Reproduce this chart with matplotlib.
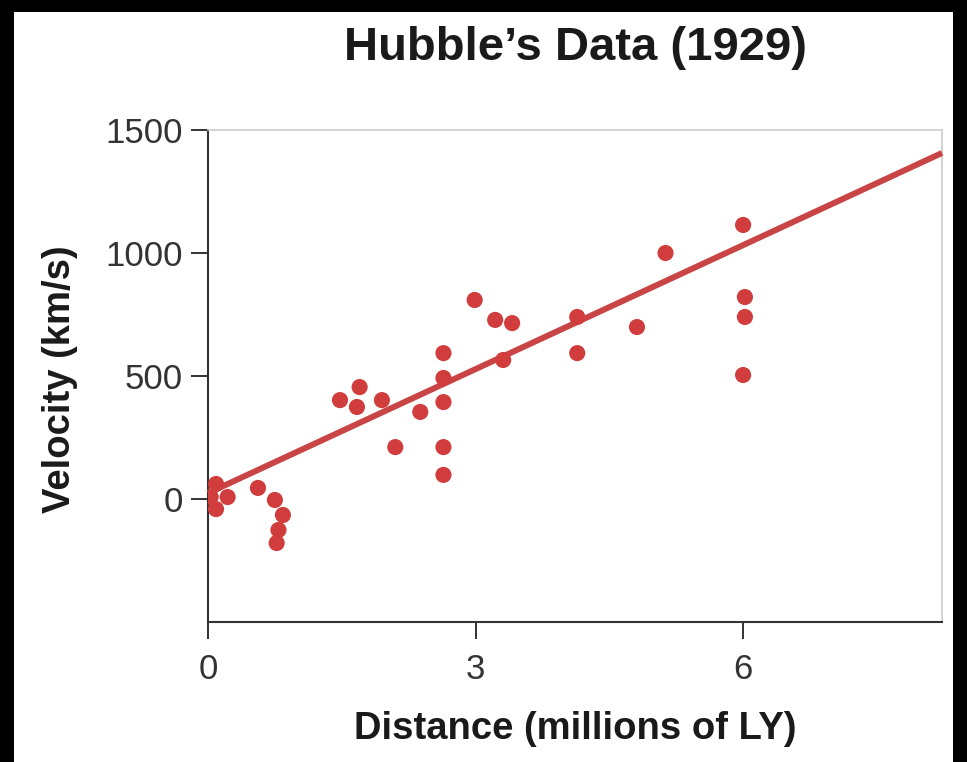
import matplotlib
matplotlib.use("Agg")
import matplotlib.pyplot as plt
from matplotlib.patches import Rectangle

plt.rcParams['font.family'] = ['Liberation Sans', 'DejaVu Sans']

# Galaxy distances (millions of light years) and recession velocities (km/s)
distance = [0.09, 0.03, 0.22, 0.09, 0.56, 0.75, 0.84, 0.79, 0.77,
            1.48, 1.70, 1.67, 1.95, 2.38, 2.10, 2.64, 2.64, 2.64, 2.64, 2.64,
            2.99, 3.22, 3.41, 3.31, 4.14, 4.14,
            4.81, 5.13, 6.00, 6.02, 6.02, 6.00]
velocity = [61, 8, 8, -41, 45, -4, -65, -126, -179,
            402, 455, 374, 402, 354, 211, 593, 492, 394, 211, 98,
            809, 728, 715, 565, 740, 593,
            699, 1000, 1114, 821, 740, 504]

# Best-fit line: intercept and slope
fit_intercept = 24
fit_slope = 168

x_ticks = [0, 3, 6]
y_ticks = [0, 500, 1000, 1500]
x_range = [0, 8.23]
y_range = [-500, 1500]

W, H = 967, 762
fig = plt.figure(figsize=(W / 100, H / 100), dpi=100, facecolor='black')

# white page inside the dark frame
page = Rectangle((14 / W, 0), (953 - 14) / W, 1 - 12 / H,
                 transform=fig.transFigure, facecolor='white',
                 edgecolor='none', zorder=-10)
fig.patches.append(page)

ax = fig.add_axes([208 / W, 1 - 622 / H, (942 - 208) / W, (622 - 130) / H])
ax.set_facecolor('white')

red = '#d13c3c'
line_red = '#c94444'

ax.plot(x_range, [fit_intercept + fit_slope * x for x in x_range],
        color=line_red, lw=4.3, solid_capstyle='butt', zorder=3, clip_on=False)
ax.scatter(distance, velocity, s=135, color=red, edgecolors='none', zorder=4)

ax.set_xlim(x_range)
ax.set_ylim(y_range)
ax.set_xticks(x_ticks)
ax.set_yticks(y_ticks)
ax.set_xticklabels([str(t) for t in x_ticks])
ax.set_yticklabels([str(t) for t in y_ticks])

for side in ['left', 'bottom']:
    ax.spines[side].set_color('#333333')
    ax.spines[side].set_linewidth(1.5)
for side in ['top', 'right']:
    ax.spines[side].set_color('#cccccc')
    ax.spines[side].set_linewidth(1.2)

ax.tick_params(axis='x', direction='out', length=12, width=1.4, color='#333333',
               pad=10, labelsize=25, labelcolor='#333333')
ax.tick_params(axis='y', direction='out', length=12, width=1.4, color='#333333',
               pad=6, labelsize=25, labelcolor='#333333')

fig.text(575 / W, 1 - 729 / H, 'Distance (millions of LY)', fontsize=27.5,
         fontweight='bold', color='#1a1a1a', ha='center', va='center')
fig.text(60 / W, 1 - 379 / H, 'Velocity (km/s)', fontsize=27.5,
         fontweight='bold', color='#1a1a1a', ha='center', va='center',
         rotation=90)
fig.text(575 / W, 1 - 48 / H, "Hubble\u2019s Data (1929)", fontsize=34,
         fontweight='bold', color='#1a1a1a', ha='center', va='center')

fig.savefig('out.png', dpi=100, facecolor=fig.get_facecolor())
